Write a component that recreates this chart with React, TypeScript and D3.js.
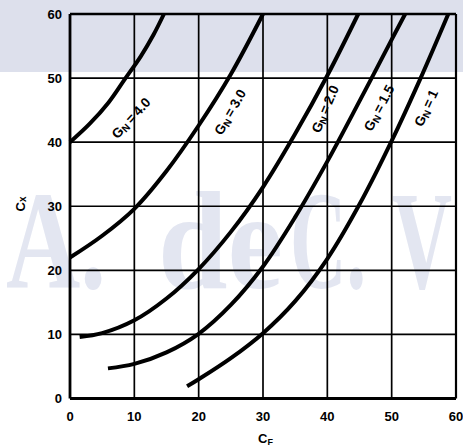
import React from "react";
import * as d3 from "d3";

const W = 463;
const H = 446;

const xTicks = [0, 10, 20, 30, 40, 50, 60];
const yTicks = [0, 10, 20, 30, 40, 50, 60];

// Curves: [Cf, Cx]
const g40: [number, number][] = [[0, 40], [3, 42.8], [6, 46.2], [8.5, 49.8], [11, 53.4], [13, 56.8], [14.6, 60]];
const g30: [number, number][] = [[0, 22], [5, 25.4], [10, 29.6], [15, 35.5], [20, 42.6], [25, 50.6], [30, 60]];
const g20: [number, number][] = [[1.5, 9.6], [5, 10.2], [10, 12.2], [15, 15.6], [20, 20.2], [25, 26], [30, 33], [35, 41.3], [40, 50.4], [44.8, 60]];
const g15: [number, number][] = [[5.9, 4.7], [10, 5.4], [15, 7.2], [20, 10.1], [25, 14.6], [30, 20.6], [35, 28.3], [40, 37], [45, 46.4], [50, 56], [52.1, 60]];
const g10: [number, number][] = [[18.2, 1.9], [20, 3], [25, 6.3], [30, 10.2], [35, 15.2], [40, 21.8], [45, 30.3], [50, 40.2], [54.5, 50], [58.8, 60]];

const curveData = [g40, g30, g20, g15, g10];
const curveValues = ["4.0", "3.0", "2.0", "1.5", "1"];
// label placement (pixel center, rotation)
const labelPos: [number, number, number][] = [
  [131, 118, -47],
  [230, 112, -60],
  [325, 109, -67],
  [379, 108, -62],
  [426, 108, -65],
];

// watermark pieces: text, left x, width
const wmText = ["A.", "de", "C.", "V"];
const wmX = [6, 158, 290, 392];
const wmLen = [100, 125, 76, 60];

const FONT = "'Liberation Sans', Arial, Helvetica, sans-serif";

export default function App() {
  const x = d3.scaleLinear().domain([0, 60]).range([70, 456]);
  const y = d3.scaleLinear().domain([0, 60]).range([398.5, 14]);
  const line = d3
    .line<[number, number]>()
    .x((d) => x(d[0]))
    .y((d) => y(d[1]))
    .curve(d3.curveCatmullRom.alpha(0.5));

  return (
    <svg
      width={W}
      height={H}
      style={{ position: "absolute", left: 0, top: 0, background: "#fff" }}
      fontFamily={FONT}
    >
      {/* watermark */}
      <rect x={0} y={0} width={W} height={72} fill="#dde0ec" />
      {wmText.map((t, i) => (
        <text
          key={"wm" + i}
          x={wmX[i]}
          y={288}
          fontFamily="'Liberation Serif', 'DejaVu Serif', serif"
          fontWeight="bold"
          fontSize={140}
          fill="#e3e6f1"
          textLength={wmLen[i]}
          lengthAdjust="spacingAndGlyphs"
        >
          {t}
        </text>
      ))}

      {/* grid */}
      {xTicks.slice(1, -1).map((t) => (
        <line key={"gx" + t} x1={x(t)} x2={x(t)} y1={y(0)} y2={y(60)} stroke="#000" strokeWidth={1.7} />
      ))}
      {yTicks.slice(1, -1).map((t) => (
        <line key={"gy" + t} x1={x(0)} x2={x(60)} y1={y(t)} y2={y(t)} stroke="#000" strokeWidth={1.7} />
      ))}
      {/* frame */}
      <line x1={x(0)} x2={x(60)} y1={y(60)} y2={y(60)} stroke="#000" strokeWidth={2.7} />
      <line x1={x(60)} x2={x(60)} y1={y(60)} y2={y(0)} stroke="#000" strokeWidth={2.2} />
      <line x1={x(0)} x2={x(60)} y1={y(0)} y2={y(0)} stroke="#000" strokeWidth={2.8} />
      <line x1={x(0)} x2={x(0)} y1={y(60)} y2={y(0)} stroke="#000" strokeWidth={2.8} />

      {/* curves */}
      {curveData.map((c, i) => (
        <path key={"c" + i} d={line(c) || ""} fill="none" stroke="#000" strokeWidth={4} />
      ))}

      {/* curve labels */}
      {curveValues.map((v, i) => (
        <text
          key={"l" + i}
          transform={`translate(${labelPos[i][0]},${labelPos[i][1]}) rotate(${labelPos[i][2]})`}
          textAnchor="middle"
          dy="0.35em"
          fontSize={13.5}
          fontWeight="bold"
          fill="#000"
        >
          G
          <tspan fontSize={10} dy={2}>N</tspan>
          <tspan dy={-2}>{"\u2009=\u2009" + v}</tspan>
        </text>
      ))}

      {/* y tick labels */}
      {yTicks.map((t) => (
        <text key={"yt" + t} x={62} y={y(t)} dy="0.36em" textAnchor="end" fontSize={13} fontWeight="bold">
          {t}
        </text>
      ))}
      {/* x tick labels */}
      {xTicks.map((t) => (
        <text key={"xt" + t} x={x(t)} y={421} textAnchor="middle" fontSize={13} fontWeight="bold">
          {t}
        </text>
      ))}

      {/* axis titles */}
      <text x={258} y={443} fontSize={13} fontWeight="bold">
        C<tspan fontSize={9} dy={2}>F</tspan>
      </text>
      <text transform="translate(25,204) rotate(-90)" textAnchor="middle" fontSize={13} fontWeight="bold">
        C<tspan fontSize={10} dy={1}>x</tspan>
      </text>
    </svg>
  );
}
